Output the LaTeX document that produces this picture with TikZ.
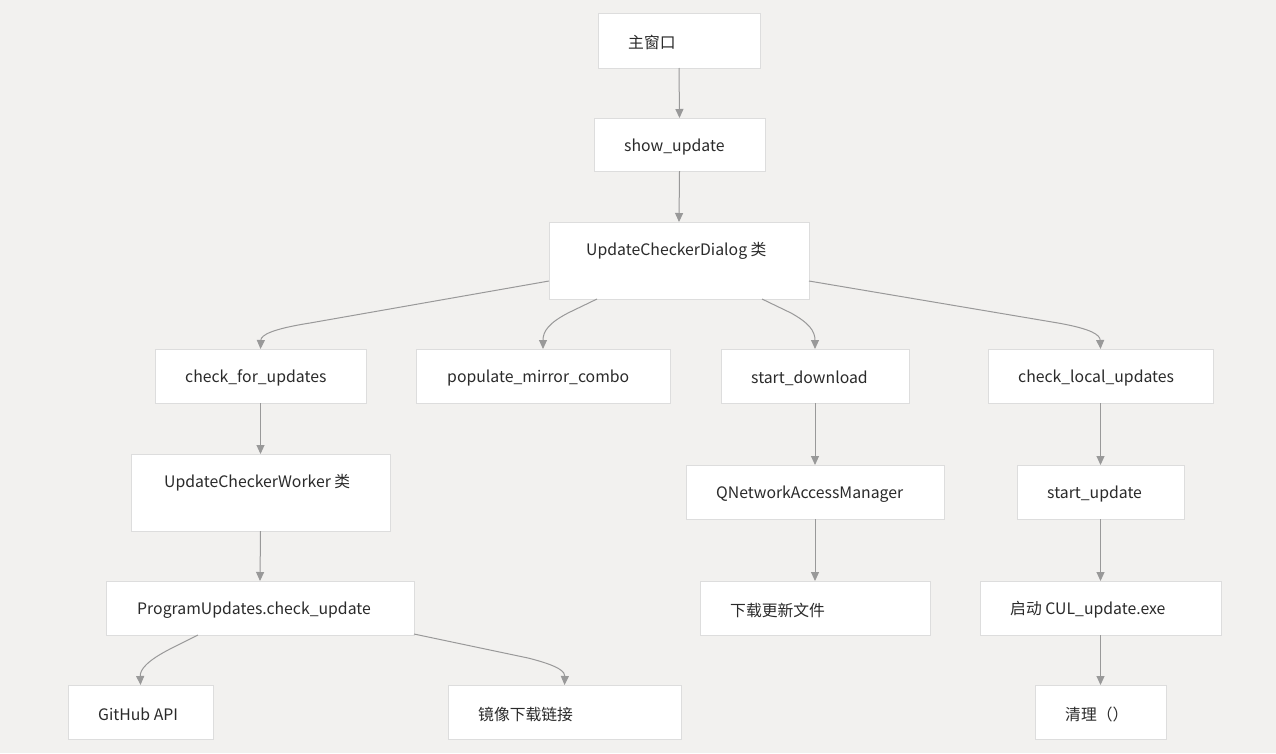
\documentclass[tikz,border=0pt]{standalone}
\usepackage{fontspec}
\setmainfont{Noto Sans CJK SC}
\usetikzlibrary{arrows.meta,calc}
\definecolor{bg}{HTML}{F2F1EF}
\definecolor{bord}{HTML}{DDDDDD}
\definecolor{edgec}{HTML}{999999}
\definecolor{txt}{HTML}{2A2A2A}
\tikzset{
  box/.style={draw=bord, fill=white, line width=1pt, inner sep=0pt, outer sep=0pt, anchor=north west},
  lbl/.style={anchor=west, inner sep=0pt, text=txt, font=\fontsize{15.8}{18}\selectfont},
  edge/.style={draw=edgec, line width=1pt, -{Triangle[width=8pt,length=9pt]}},
}
\newcommand{\bx}[7]{%
  \node[box, minimum width={(#4-#2)*1pt}, minimum height={(#5-#3)*1pt}] (#1) at (#2,#3) {};
  \node[lbl] (#1t) at (#6,#3+29) {#7};
}
\begin{document}
\begin{tikzpicture}[x=1pt,y=-1pt]
\fill[bg] (0,0) rectangle (1276,753);
\useasboundingbox (0,0) rectangle (1276,753);
\bx{main}{598}{13}{760}{68}{628}{主窗口}
\bx{show}{594}{118}{765}{171}{624}{show\_update}
\bx{dlg}{549}{222}{809}{299}{586}{UpdateCheckerDialog 类}
\bx{cfu}{155}{349}{366}{403}{185}{check\_for\_updates}
\bx{pmc}{416}{349}{670}{403}{447}{populate\_mirror\_combo}
\bx{sd}{721}{349}{909}{403}{751}{start\_download}
\bx{clu}{988}{349}{1213}{403}{1018}{check\_local\_updates}
\bx{ucw}{131}{454}{390}{531}{164}{UpdateCheckerWorker 类}
\bx{qnam}{686}{465}{944}{519}{716}{QNetworkAccessManager}
\bx{su}{1017}{465}{1184}{519}{1047}{start\_update}
\bx{puc}{106}{581}{414}{635}{137}{ProgramUpdates.check\_update}
\bx{dl}{700}{581}{930}{635}{730}{下载更新文件}
\bx{cul}{980}{581}{1221}{635}{1010}{启动 CUL\_update.exe}
\bx{gh}{68}{685}{213}{739}{98}{GitHub API}
\bx{mir}{448}{685}{681}{739}{478}{镜像下载链接}
\bx{cln}{1035}{685}{1166}{739}{1065}{清理（）}

\draw[edge] (main.south) -- (show.north);
\draw[edge] (show.south) -- (dlg.north);
\draw[edge] ([yshift=18pt]dlg.south west) -- (310,323) .. controls (272,329) and (261,335) .. (cfu.north);
\draw[edge] ([xshift=48pt]dlg.south west) -- (568,313) .. controls (549,323) and (543,331) .. (pmc.north);
\draw[edge] ([xshift=-47pt]dlg.south east) -- (791,313) .. controls (809,323) and (815,331) .. (sd.north);
\draw[edge] ([yshift=18pt]dlg.south east) -- (1058,323) .. controls (1092,329) and (1100,335) .. (clu.north);
\draw[edge] (cfu.south) -- (ucw.north);
\draw[edge] (ucw.south) -- (puc.north);
\draw[edge] ([xshift=92pt]puc.south west) -- (172,648) .. controls (146,661) and (140,670) .. (gh.north);
\draw[edge] ([yshift=1pt]puc.south east) -- (528,658) .. controls (560,666) and (565,672) .. (mir.north);
\draw[edge] (sd.south) -- (qnam.north);
\draw[edge] (qnam.south) -- (dl.north);
\draw[edge] (clu.south) -- (su.north);
\draw[edge] (su.south) -- (cul.north);
\draw[edge] (cul.south) -- (cln.north);
\end{tikzpicture}
\end{document}
